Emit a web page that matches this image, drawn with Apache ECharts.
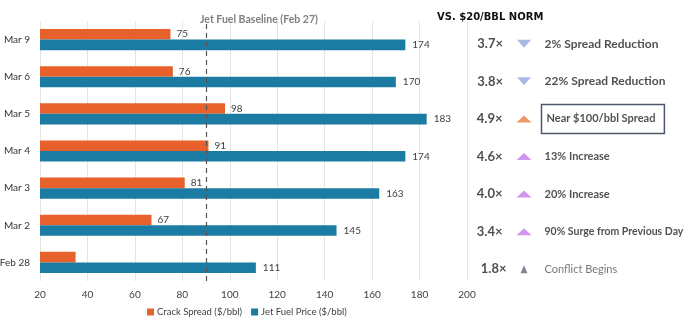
<!DOCTYPE html>
<html>
<head>
<meta charset="utf-8">
<script src="https://cdn.jsdelivr.net/npm/echarts@6/dist/echarts.min.js"></script>
<style>
html,body{margin:0;padding:0;background:#fff;}
#c{width:688px;height:322px;}
</style>
</head>
<body>
<div id="c"></div>
<script>
// ---- data ----
const dates = ['Feb 28', 'Mar 2', 'Mar 3', 'Mar 4', 'Mar 5', 'Mar 6', 'Mar 9'];
const crackSpread = [35, 67, 81, 91, 98, 76, 75];
const jetFuel = [111, 145, 163, 174, 183, 170, 174];
const baseline = 90;
const multiples = ['1.8×', '3.4×', '4.0×', '4.6×', '4.9×', '3.8×', '3.7×'];
const notes = ['Conflict Begins', '90% Surge from Previous Day', '20% Increase', '13% Increase', 'Near $100/bbl Spread', '22% Spread Reduction', '2% Spread Reduction'];
const trend = ['start', 'up', 'up', 'up', 'peak', 'down', 'down'];
const xTicks = [20, 200, 20]; // min, max, interval

const FONT = 'Lato';
const ORANGE = '#E6612B';
const BLUE = '#1C7BA3';
const trendStyle = {
  start: { color: '#5E6A77', size: [7, 8], rotate: 0 },
  up: { color: '#C57BE8', size: [15, 7], rotate: 0 },
  peak: { color: '#EA8040', size: [15, 7], rotate: 0 },
  down: { color: '#8EA8DC', size: [14, 8], rotate: 180 }
};

const chart = echarts.init(document.getElementById('c'));

const markerData = dates.map((d, i) => {
  const s = trendStyle[trend[i]];
  return {
    value: [54, d],
    symbolSize: s.size,
    symbolRotate: s.rotate,
    itemStyle: { color: s.color },
    label: { formatter: multiples[i] }
  };
});
const noteData = dates.map((d, i) => {
  const item = { value: [74, d], label: { formatter: notes[i] } };
  if (trend[i] === 'start') {
    item.label.fontWeight = 'normal';
    item.label.color = '#555';
  }
  if (trend[i] === 'down') {
    item.label.fontSize = 12;
  }
  if (notes[i].length > 22) {
    item.label.fontSize = 10.5;
  }
  if (trend[i] === 'peak') {
    item.label.borderColor = '#1F2D4A';
    item.label.borderWidth = 1.5;
    item.label.padding = [9, 9, 9, 5];
    item.label.offset = [-3, 0];
  }
  return item;
});

chart.setOption({
  animation: false,
  backgroundColor: '#fff',
  textStyle: { fontFamily: FONT },
  title: [
    {
      text: 'Jet Fuel Baseline (Feb 27)', left: 200, top: 14, padding: 0,
      textStyle: { fontFamily: FONT, fontSize: 10.5, fontWeight: 'bold', color: '#7f7f7f' }
    },
    {
      text: 'VS. $20/BBL NORM', left: 437, top: 12, padding: 0,
      textStyle: { fontFamily: 'DejaVu Sans', fontSize: 10, fontWeight: 'bold', color: '#111' }
    }
  ],
  legend: {
    bottom: 0, left: 142,
    itemWidth: 7, itemHeight: 7, itemGap: 9,
    icon: 'rect',
    textStyle: { fontFamily: FONT, fontSize: 9.5, color: '#404040', padding: [0, 0, 0, -2] },
    data: ['Crack Spread ($/bbl)', 'Jet Fuel Price ($/bbl)']
  },
  grid: [
    { left: 40, right: 221, top: 21, bottom: 41, containLabel: false, outerBoundsMode: 'none' },
    { left: 470, right: 0, top: 25, bottom: 34, containLabel: false, outerBoundsMode: 'none' }
  ],
  xAxis: [
    {
      gridIndex: 0, type: 'value', min: xTicks[0], max: xTicks[1], interval: xTicks[2],
      axisLine: { show: false }, axisTick: { show: false },
      axisLabel: { fontFamily: FONT, fontSize: 10, color: '#404040', margin: 9 },
      splitLine: { show: true, lineStyle: { color: '#e4e4e4', width: 1 } }
    },
    { gridIndex: 1, type: 'value', min: 0, max: 218, show: false }
  ],
  yAxis: [
    {
      gridIndex: 0, type: 'category', data: dates,
      axisLine: { show: false }, axisTick: { show: false },
      axisLabel: { fontFamily: FONT, fontSize: 10, color: '#333', margin: 10 }
    },
    { gridIndex: 1, type: 'category', data: dates, show: false }
  ],
  series: [
    {
      name: 'Crack Spread ($/bbl)', type: 'bar',
      data: crackSpread.map((v, i) => i === 0 ? { value: v, label: { show: false } } : v),
      itemStyle: { color: ORANGE },
      barGap: '0%', barCategoryGap: '43%',
      label: { show: true, position: 'right', distance: 6, fontFamily: FONT, fontSize: 10, color: '#404040' },
      markLine: {
        silent: true, symbol: 'none',
        lineStyle: { color: '#555', type: [5, 4], width: 1.2 },
        label: { show: false },
        data: [{ xAxis: baseline }]
      }
    },
    {
      name: 'Jet Fuel Price ($/bbl)', type: 'bar',
      data: jetFuel,
      itemStyle: { color: BLUE },
      barGap: '0%', barCategoryGap: '43%',
      label: { show: true, position: 'right', distance: 7, fontFamily: FONT, fontSize: 10, color: '#404040' }
    },
    {
      type: 'scatter', xAxisIndex: 1, yAxisIndex: 1, symbol: 'triangle',
      data: markerData,
      label: { show: true, position: 'left', distance: 14, fontFamily: FONT, fontSize: 13, fontWeight: 'bold', color: '#222' }
    },
    {
      type: 'scatter', xAxisIndex: 1, yAxisIndex: 1, symbolSize: 1,
      itemStyle: { color: 'rgba(0,0,0,0)' },
      data: noteData,
      label: { show: true, position: 'right', distance: 0, fontFamily: FONT, fontSize: 11, fontWeight: 'bold', color: '#262626' }
    }
  ]
});
</script>
</body>
</html>
